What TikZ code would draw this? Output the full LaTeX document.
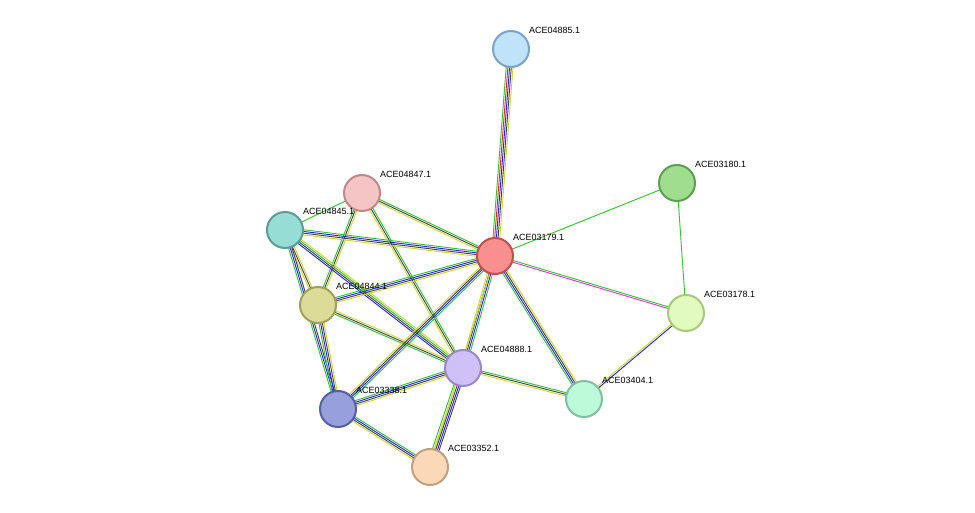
\documentclass[tikz,border=0pt]{standalone}
\usepackage{fontspec}
\setmainfont{Liberation Sans}
\usetikzlibrary{calc}
\definecolor{cy}{HTML}{C8D830}
\definecolor{cg}{HTML}{30C030}
\definecolor{cb}{HTML}{2020F0}
\definecolor{ck}{HTML}{404040}
\definecolor{cr}{HTML}{F02020}
\definecolor{cmag}{HTML}{E030E0}
\newcommand{\medge}[3]{%
  \foreach \c [count=\i] in {#3} {\xdef\nn{\i}}%
  \foreach \c [count=\i] in {#3} {%
    \pgfmathsetmacro{\off}{(\i-(\nn+1)/2)*1.7}%
    \draw[draw=\c,line width=0.9pt] ($(#1)!\off pt!90:(#2)$) -- ($(#2)!\off pt!-90:(#1)$);}}
\tikzset{prot/.style={circle,minimum size=36pt,inner sep=0pt,line width=2pt},
  lab/.style={font=\fontsize{9}{10}\selectfont,anchor=south west,inner sep=1pt}}
\begin{document}
\begin{tikzpicture}[x=1pt,y=-1pt]
\useasboundingbox[fill=white] (0,0) rectangle (975,513);
\coordinate (A) at (511,49);
\coordinate (B) at (677,183);
\coordinate (C) at (362,193);
\coordinate (D) at (285,230);
\coordinate (E) at (495,256);
\coordinate (F) at (318,305);
\coordinate (G) at (686,313);
\coordinate (H) at (463,368);
\coordinate (I) at (584,399);
\coordinate (J) at (338,409);
\coordinate (K) at (430,467);
\medge{A}{E}{cg,cr,cb,ck,cy}
\medge{B}{E}{cg}
\medge{B}{G}{cg}
\medge{E}{G}{cmag,cg}
\medge{G}{I}{cy,cb}
\medge{C}{E}{cy,ck,cg}
\medge{C}{D}{cg}
\medge{C}{F}{cg,ck,cy}
\medge{C}{H}{cy,ck,cg}
\medge{D}{E}{cy,ck,cb,cg}
\medge{D}{F}{cy,ck,cy}
\medge{D}{H}{cb,ck,cg,cy}
\medge{D}{J}{cg,cb,ck}
\medge{F}{E}{cy,ck,cb,cg}
\medge{F}{H}{cg,ck,cy}
\medge{F}{J}{cg,cb,ck,cy}
\medge{E}{H}{cy,ck,cb,cg}
\medge{E}{J}{cy,ck,cb,cg}
\medge{E}{I}{cg,cb,ck,cy}
\medge{E}{K}{cy}
\medge{H}{I}{cy,ck,cg}
\medge{H}{J}{cg,cb,ck,cy}
\medge{H}{K}{cg,cy,ck,cb,ck}
\medge{J}{K}{cy,ck,cb,cg}
\node[prot,fill={rgb,255:red,191;green,227;blue,248},draw={rgb,255:red,122;green,165;blue,200}] (nA) at (A) {};
\node[prot,fill={rgb,255:red,160;green,221;blue,143},draw={rgb,255:red,95;green,160;blue,80}] (nB) at (B) {};
\node[prot,fill={rgb,255:red,245;green,196;blue,196},draw={rgb,255:red,192;green,136;blue,136}] (nC) at (C) {};
\node[prot,fill={rgb,255:red,149;green,221;blue,213},draw={rgb,255:red,90;green,158;blue,152}] (nD) at (D) {};
\node[prot,fill={rgb,255:red,250;green,143;blue,143},draw={rgb,255:red,192;green,80;blue,80}] (nE) at (E) {};
\node[prot,fill={rgb,255:red,220;green,220;blue,152},draw={rgb,255:red,160;green,160;blue,88}] (nF) at (F) {};
\node[prot,fill={rgb,255:red,224;green,251;blue,189},draw={rgb,255:red,168;green,200;blue,128}] (nG) at (G) {};
\node[prot,fill={rgb,255:red,208;green,192;blue,248},draw={rgb,255:red,154;green,136;blue,200}] (nH) at (H) {};
\node[prot,fill={rgb,255:red,189;green,250;blue,217},draw={rgb,255:red,128;green,192;blue,160}] (nI) at (I) {};
\node[prot,fill={rgb,255:red,152;green,160;blue,220},draw={rgb,255:red,85;green,96;blue,160}] (nJ) at (J) {};
\node[prot,fill={rgb,255:red,251;green,216;blue,184},draw={rgb,255:red,192;green,160;blue,128}] (nK) at (K) {};
\foreach \n/\t in {A/ACE04885.1,B/ACE03180.1,C/ACE04847.1,D/ACE04845.1,E/ACE03179.1,F/ACE04844.1,G/ACE03178.1,H/ACE04888.1,I/ACE03404.1,J/ACE03338.1,K/ACE03352.1}
  \node[lab] (l\n) at ($(n\n.center)+(17,-14)$) {\t};
\end{tikzpicture}
\end{document}
